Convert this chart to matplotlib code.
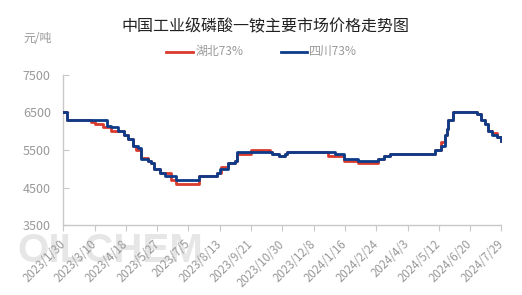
import matplotlib
matplotlib.use("Agg")
import matplotlib.pyplot as plt
from matplotlib.lines import Line2D
import pandas as pd

plt.rcParams['font.family'] = ['Noto Sans CJK SC', 'DejaVu Sans']

title = "中国工业级磷酸一铵主要市场价格走势图"
unit = "元/吨"
series_names = ["湖北73%", "四川73%"]

dates_hb = ["2023-01-30","2023-02-03","2023-03-06","2023-03-10","2023-03-21","2023-03-31","2023-04-16",
            "2023-04-21","2023-04-27","2023-05-01","2023-05-07","2023-05-16","2023-05-19","2023-05-23",
            "2023-05-30","2023-06-13","2023-06-19","2023-07-18","2023-08-09","2023-08-14","2023-08-23",
            "2023-09-01","2023-09-03","2023-09-21","2023-10-14","2023-10-17","2023-10-26","2023-11-02",
            "2023-11-05","2023-12-26","2024-01-15","2024-02-01","2024-02-26","2024-03-05","2024-03-12",
            "2024-05-07","2024-05-14","2024-05-20","2024-05-22","2024-05-23","2024-05-30","2024-06-28",
            "2024-07-03","2024-07-09","2024-07-12","2024-07-17","2024-07-23","2024-07-29"]
vals_hb = [6500,6300,6250,6200,6100,6000,5900,5800,5600,5500,5300,5200,5150,5000,4900,4700,4600,4800,
           4900,5050,5150,5200,5400,5500,5450,5400,5350,5400,5450,5350,5200,5150,5250,5350,5400,5500,
           5700,5900,6050,6300,6500,6450,6300,6200,6000,5950,5850,5750]

dates_sc = ["2023-01-30","2023-02-03","2023-03-26","2023-03-31","2023-04-08","2023-04-16","2023-04-21",
            "2023-04-27","2023-05-03","2023-05-07","2023-05-16","2023-05-19","2023-05-23","2023-05-30",
            "2023-06-06","2023-06-19","2023-07-18","2023-08-09","2023-08-13","2023-08-23","2023-09-01",
            "2023-09-04","2023-10-17","2023-10-26","2023-11-02","2023-11-05","2024-01-03","2024-01-15",
            "2024-02-01","2024-02-26","2024-03-05","2024-03-12","2024-05-07","2024-05-14","2024-05-20",
            "2024-05-22","2024-05-23","2024-05-30","2024-06-28","2024-07-03","2024-07-09","2024-07-12",
            "2024-07-17","2024-07-23","2024-07-29"]
vals_sc = [6500,6300,6150,6100,6000,5900,5800,5600,5550,5250,5200,5150,5000,4900,4800,4700,4800,4900,
           5000,5150,5200,5450,5400,5350,5400,5450,5400,5250,5200,5250,5350,5400,5500,5600,5900,6050,
           6300,6500,6450,6300,6200,6000,5900,5850,5750]

x_tick_labels = ["2023/1/30","2023/3/10","2023/4/18","2023/5/27","2023/7/5","2023/8/13","2023/9/21",
                 "2023/10/30","2023/12/8","2024/1/16","2024/2/24","2024/4/3","2024/5/12","2024/6/20",
                 "2024/7/29"]
y_ticks = [3500, 4500, 5500, 6500, 7500]

RED = "#d93a2c"
BLUE = "#0c3b8a"
GRAY = "#999999"

fig = plt.figure(figsize=(5.22, 2.95), dpi=100)

# watermark (behind everything)
fig.text(110/522, 1-251/295, "OILCHEM", family="Liberation Sans", weight="bold",
         fontsize=29, color="#e6e6e6", ha="center", va="center", zorder=-5)

ax = fig.add_axes([63.3/522, 1-225.3/295, (501.5-63.3)/522, (225.3-74.7)/295])
ax.patch.set_alpha(0)

xh = pd.to_datetime(dates_hb)
xs = pd.to_datetime(dates_sc)
ax.plot(xh, vals_hb, drawstyle="steps-post", color=RED, lw=2.0, zorder=3)
ax.plot(xs, vals_sc, drawstyle="steps-post", color=BLUE, lw=2.0, zorder=4)

tick_pos = pd.to_datetime(x_tick_labels, format="%Y/%m/%d")
ax.set_xlim(tick_pos[0], tick_pos[-1])
ax.set_ylim(3500, 7500)
ax.set_xticks(tick_pos)
ax.set_xticklabels(x_tick_labels, rotation=45, ha="right", va="center",
                   rotation_mode="anchor", color=GRAY, fontsize=8.3)
ax.set_yticks(y_ticks)
ax.set_yticklabels([str(v) for v in y_ticks], color=GRAY, fontsize=9)

for s in ["top", "right"]:
    ax.spines[s].set_visible(False)
for s in ["left", "bottom"]:
    ax.spines[s].set_color("#c8c8c8")
    ax.spines[s].set_linewidth(1)
ax.tick_params(axis="x", direction="out", length=4, color="#c8c8c8", pad=8)
ax.tick_params(axis="y", direction="in", length=4, color="#c8c8c8", pad=9)

fig.text(265/522, 1-26/295, title, ha="center", va="center", fontsize=11.5, color="#222222")
fig.text(23/522, 1-39/295, unit, ha="left", va="center", fontsize=8.6, color=GRAY)

# legend
ly = 1-51.7/295
fig.add_artist(Line2D([165.7/522, 192.7/522], [ly, ly], color=RED, lw=2))
fig.text(196/522, ly, series_names[0], ha="left", va="center", fontsize=8.6, color=GRAY)
fig.add_artist(Line2D([280.7/522, 306.7/522], [ly, ly], color=BLUE, lw=2))
fig.text(309.3/522, ly, series_names[1], ha="left", va="center", fontsize=8.6, color=GRAY)

fig.savefig("out.png", dpi=100)
